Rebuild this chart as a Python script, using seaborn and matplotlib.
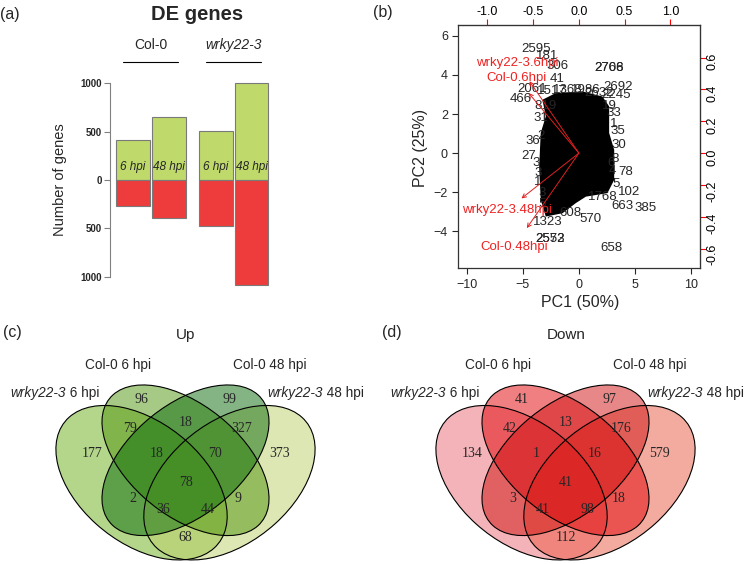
import matplotlib
matplotlib.use("Agg")
import numpy as np
import pandas as pd
import matplotlib.pyplot as plt
from matplotlib.patches import Ellipse
import seaborn as sns

W, H = 750, 564

# (a) DE genes per condition
conditions = ["Col-0 6 hpi", "Col-0 48 hpi", "wrky22-3 6 hpi", "wrky22-3 48 hpi"]
bar_text = ["6 hpi", "48 hpi", "6 hpi", "48 hpi"]
up_genes = [412, 648, 502, 1005]
down_genes = [270, 388, 472, 1081]
yticks_a = [-1000, -500, 0, 500, 1000]

# (b) PCA biplot
sample_names = ["wrky22-3.6hpi", "Col-0.6hpi", "wrky22-3.48hpi", "Col-0.48hpi"]
load_pc1 = [-0.675, -0.687, -0.785, -0.712]
load_pc2 = [0.564, 0.472, -0.356, -0.589]
gene_ids = ["2595", "181", "306", "41", "2708", "2766", "2692", "2245", "466", "2061",
            "19", "33", "35", "30", "78", "102", "663", "385", "570", "1323",
            "608", "2572", "2553", "658", "36", "27", "3", "31", "1", "3",
            "1768", "1517", "1368", "1986", "2632", "819", "5", "6",
            "2", "3", "5", "8", "4", "1"]
gene_pc1 = [-3.84, -2.8, -1.9, -1.9, 2.7, 2.7, 3.45, 3.3, -5.18, -4.14,
            2.74, 3.15, 3.45, 3.6, 4.2, 4.5, 3.9, 5.92, 1.07, -2.8,
            -0.71, -2.59, -2.59, 2.86, -4.14, -4.5, -3.84, -3.4, -3.7, -3.25,
            2.1, -2.4, -1.0, 0.6, 1.8, -3.0, 3.3, 2.9,
            -3.4, -3.6, -3.3, 3.2, 3.0, 3.1]
gene_pc2 = [5.33, 4.99, 4.44, 3.79, 4.36, 4.36, 3.38, 2.99, 2.78, 3.28,
            2.43, 2.05, 1.11, 0.39, -0.97, -1.97, -2.69, -2.82, -3.38, -3.54,
            -3.08, -4.41, -4.41, -4.87, 0.6, -0.17, -0.51, 1.79, -1.46, -2.05,
            -2.23, 3.2, 3.25, 3.25, 3.1, 2.4, -1.6, -0.5,
            0.9, -1.0, -2.6, -0.3, -0.9, 1.5]
# outline of the dense, fully overlapping label cloud
cloud_pc1 = [-3.25, -2.05, 0.32, 2.1, 2.7, 2.7, 3.15, 3.15, 2.55, 0.63, -0.27, -1.46,
             -2.95, -3.4, -3.54, -3.4, -2.95]
cloud_pc2 = [2.73, 3.08, 3.16, 2.9, 2.39, 1.03, 0.17, -1.37, -2.05, -2.23, -2.56, -3.08,
             -3.25, -2.4, -0.69, 1.03, 1.88]
S = 8.15  # ratio between sample and loading axes

# (c)/(d) Venn: A = wrky22-3 6 hpi, B = Col-0 6 hpi, C = Col-0 48 hpi, D = wrky22-3 48 hpi
region_names = ["A", "B", "C", "D", "AB", "BC", "CD", "ABC", "BCD", "ABCD",
                "AC", "BD", "ACD", "ABD", "AD"]
venn_up = [177, 96, 99, 373, 79, 18, 327, 18, 70, 78, 2, 9, 36, 44, 68]
venn_down = [134, 41, 97, 579, 42, 13, 176, 1, 16, 41, 3, 18, 41, 98, 112]

# layout
label_xy = {"A": (0.18, 0.594), "B": (0.35, 0.80), "C": (0.65, 0.80), "D": (0.82, 0.594),
            "AB": (0.31, 0.69), "BC": (0.5, 0.713), "CD": (0.69, 0.69),
            "ABC": (0.40, 0.597), "BCD": (0.60, 0.597), "ABCD": (0.5, 0.485),
            "AC": (0.32, 0.426), "BD": (0.68, 0.426), "ACD": (0.424, 0.382),
            "ABD": (0.576, 0.382), "AD": (0.5, 0.278)}
# drawing order: outer ellipses (A, D) first, then inner ones (B, C)
ell_centers = [(0.35, 0.485), (0.65, 0.485), (0.5, 0.57), (0.5, 0.57)]
ell_angles = [-45, 45, -45, 45]
ell_minor = [0.44, 0.44, 0.4, 0.4]
up_colors = ["#6baf19", "#bdd169", "#4f950f", "#0a6a0a"]
down_colors = ["#eb6973", "#eb5941", "#e10005", "#d01010"]

sns.set_style("white")
plt.rcParams["font.family"] = ["Liberation Sans", "DejaVu Sans"]

fig = plt.figure(figsize=(W / 100, H / 100), dpi=100)


def fx(px):
    return px / W


def fy(py):
    return 1 - py / H


def mixed_text(x_px, y_px, ital, plain, size):
    r = fig.canvas.get_renderer()
    t1 = fig.text(0, 0, ital, fontsize=size, style="italic", va="center")
    t2 = fig.text(0, 0, plain, fontsize=size, va="center")
    w1 = t1.get_window_extent(r).width
    w2 = t2.get_window_extent(r).width
    left = x_px - (w1 + w2) / 2
    t1.set_position((fx(left), fy(y_px)))
    t2.set_position((fx(left + w1), fy(y_px)))


# ---------- (a) ----------
ax_a = fig.add_axes([fx(110), fy(290), fx(170), 220 / H])
bar_x = [0, 1, 2.32, 3.32]
df_a = pd.DataFrame({"x": bar_x, "up": up_genes, "down": [-v for v in down_genes]})
sns.barplot(data=df_a, x="x", y="up", native_scale=True, orient="x", width=0.95,
            color="#bfd96b", saturation=1, edgecolor="#7a7a7a", linewidth=0.8,
            errorbar=None, ax=ax_a)
sns.barplot(data=df_a, x="x", y="down", native_scale=True, orient="x", width=0.95,
            color="#ee3b3b", saturation=1, edgecolor="#7a7a7a", linewidth=0.8,
            errorbar=None, ax=ax_a)
ax_a.set_xlim(-0.644, 4.12)
ax_a.set_ylim(-1137.5, 1137.5)
ax_a.set_xticks([])
ax_a.set_yticks(yticks_a)
ax_a.set_yticklabels([str(abs(v)) for v in yticks_a], fontsize=7, fontweight="bold")
ax_a.set_xlabel("")
ax_a.set_ylabel("")
sns.despine(ax=ax_a, bottom=True)
ax_a.spines["left"].set_bounds(-1000, 1000)
ax_a.spines["left"].set_color("#808080")
ax_a.tick_params(axis="y", length=4, color="#808080", pad=2, left=True)
for x, t in zip(bar_x, bar_text):
    ax_a.text(x, 130, t, style="italic", fontsize=8.5, ha="center", va="center")
for i, (name, st) in enumerate([("Col-0", "normal"), ("wrky22-3", "italic")]):
    xc = (bar_x[2 * i] + bar_x[2 * i + 1]) / 2
    ax_a.text(xc, 1396, name, style=st, fontsize=10, ha="center", va="center", clip_on=False)
    ax_a.plot([xc - 0.77, xc + 0.77], [1220, 1220], color="black", lw=0.8, clip_on=False)
fig.text(fx(10), fy(14), "(a)", fontsize=11.5, ha="center", va="center")
fig.text(fx(197), fy(14), "DE genes", fontsize=14.5, fontweight="bold", ha="center", va="center")
fig.text(fx(60), fy(180), "Number of genes", fontsize=10.5, rotation=90, ha="center", va="center")

# ---------- (b) ----------
ax_b = fig.add_axes([fx(458.3), fy(268.3), 241.7 / W, 243.3 / H])
ax_b.fill(cloud_pc1, cloud_pc2, color="black", lw=0)
for gid, x, y in zip(gene_ids, gene_pc1, gene_pc2):
    ax_b.text(x, y, gid, fontsize=9.5, ha="center", va="center")
for name, lx, ly in zip(sample_names, load_pc1, load_pc2):
    ax_b.annotate("", xy=(0.8 * S * lx, 0.8 * S * ly), xytext=(0, 0),
                  arrowprops=dict(arrowstyle="->", color="#e02020", lw=0.7,
                                  shrinkA=0, shrinkB=0, mutation_scale=7), zorder=5)
    ax_b.text(S * lx, S * ly, name, color="#ee2222", fontsize=9.5, ha="center",
              va="center", zorder=6)
ax_b.set_xlim(-10.75, 10.8)
ax_b.set_ylim(-5.9, 6.56)
ax_b.set_xticks([-10, -5, 0, 5, 10])
ax_b.set_yticks([-4, -2, 0, 2, 4, 6])
ax_b.tick_params(direction="out", length=4, labelsize=9, bottom=True, left=True)
for sp in ax_b.spines.values():
    sp.set_color("#333333")
    sp.set_linewidth(0.9)
sec_x = ax_b.secondary_xaxis("top", functions=(lambda v: v / S, lambda v: v * S))
sec_x.set_xticks([-1.0, -0.5, 0.0, 0.5, 1.0])
sec_x.set_xticklabels(["-1.0", "-0.5", "0.0", "0.5", "1.0"])
sec_x.tick_params(direction="out", length=4, color="red", labelcolor="black",
                  labelsize=9, pad=1)
sec_y = ax_b.secondary_yaxis("right", functions=(lambda v: v / S, lambda v: v * S))
sec_y.set_yticks([-0.6, -0.4, -0.2, 0.0, 0.2, 0.4, 0.6])
sec_y.set_yticklabels(["-0.6", "-0.4", "-0.2", "0.0", "0.2", "0.4", "0.6"])
sec_y.tick_params(direction="out", length=4, color="red", labelcolor="black",
                  labelsize=9, labelrotation=90, pad=1)
fig.text(fx(383), fy(13), "(b)", fontsize=11.5, ha="center", va="center")
fig.text(fx(580), fy(302), "PC1 (50%)", fontsize=11.5, ha="center", va="center")
fig.text(fx(421), fy(148), "PC2 (25%)", fontsize=11.5, rotation=90, ha="center", va="center")


# ---------- (c) / (d) ----------
def draw_venn(ax, counts, colors):
    for (cx, cy), ang, b, col in zip(ell_centers, ell_angles, ell_minor, colors):
        ax.add_patch(Ellipse((cx, cy), 0.7, b, angle=ang, facecolor=col,
                             alpha=0.5, edgecolor="none"))
    for (cx, cy), ang, b in zip(ell_centers, ell_angles, ell_minor):
        ax.add_patch(Ellipse((cx, cy), 0.7, b, angle=ang, fill=False,
                             edgecolor="black", lw=0.8))
    for key, n in zip(region_names, counts):
        x, y = label_xy[key]
        ax.text(x, y, str(n), family="Liberation Serif", fontsize=10, ha="center", va="center")
    ax.set_xlim(0, 1)
    ax.set_ylim(0.18, 0.87)
    ax.axis("off")


for off, counts, colors, title, tag in [(0, venn_up, up_colors, "Up", "(c)"),
                                         (380, venn_down, down_colors, "Down", "(d)")]:
    ax_v = fig.add_axes([fx(39 + off), fy(563.3), 293 / W, 182.3 / H])
    draw_venn(ax_v, counts, colors)
    fig.text(fx(186 + off), fy(335), title, fontsize=11, ha="center", va="center")
    fig.text(fx(12 + off), fy(333), tag, fontsize=11.5, ha="center", va="center")
    fig.text(fx(118 + off), fy(365), "Col-0 6 hpi", fontsize=9.8, ha="center", va="center")
    fig.text(fx(270 + off), fy(365), "Col-0 48 hpi", fontsize=9.8, ha="center", va="center")
    mixed_text(55 + off, 393, "wrky22-3", " 6 hpi", 9.8)
    mixed_text(316 + off, 393, "wrky22-3", " 48 hpi", 9.8)

fig.savefig("out.png", dpi=100)
